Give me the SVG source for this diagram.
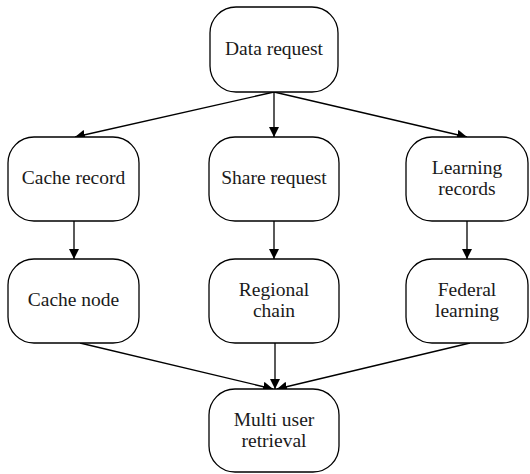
<svg xmlns="http://www.w3.org/2000/svg" width="530" height="474" viewBox="0 0 530 474">
<style>
.n{fill:#fff;stroke:#000;stroke-width:1.3}
.t{font-family:'Liberation Serif','Times New Roman',serif;font-size:19.5px;fill:#1a1a1a;text-anchor:middle}
.c{stroke:#000;stroke-width:1.3;fill:none;marker-end:url(#a)}
</style>
<defs>
<marker id="a" viewBox="0 0 10 10" refX="10" refY="5" markerWidth="10" markerHeight="10" markerUnits="userSpaceOnUse" orient="auto">
<path d="M0,0 L10,5 L0,10 Z" fill="#000"/>
</marker>
</defs>
<rect width="530" height="474" fill="#fff"/>
<g id="connectors">
<line class="c" x1="274" y1="92" x2="75" y2="137"/>
<line class="c" x1="274" y1="92" x2="274" y2="137"/>
<line class="c" x1="274" y1="92" x2="467" y2="137"/>
<line class="c" x1="74" y1="221" x2="74" y2="259"/>
<line class="c" x1="274" y1="221" x2="274" y2="259"/>
<line class="c" x1="467" y1="221" x2="467" y2="259"/>
<line class="c" x1="80" y1="343" x2="273" y2="389"/>
<line class="c" x1="275" y1="343" x2="275" y2="389"/>
<line class="c" x1="470" y1="343" x2="277" y2="389"/>
</g>
<g id="data-request"><rect class="n" x="210" y="7" width="128" height="85" rx="26"/><text class="t" x="274" y="55">Data request</text></g>
<g id="cache-record"><rect class="n" x="8" y="137" width="131" height="84" rx="26"/><text class="t" x="73.5" y="184">Cache record</text></g>
<g id="share-request"><rect class="n" x="209" y="137" width="130" height="84" rx="26"/><text class="t" x="274" y="184">Share request</text></g>
<g id="learning-records"><rect class="n" x="406" y="137" width="122" height="84" rx="26"/><text class="t" x="467" y="174">Learning</text><text class="t" x="467" y="195">records</text></g>
<g id="cache-node"><rect class="n" x="8" y="259" width="131" height="84" rx="26"/><text class="t" x="73.5" y="306">Cache node</text></g>
<g id="regional-chain"><rect class="n" x="209" y="259" width="130" height="84" rx="26"/><text class="t" x="274" y="296">Regional</text><text class="t" x="274" y="317">chain</text></g>
<g id="federal-learning"><rect class="n" x="406" y="259" width="122" height="84" rx="26"/><text class="t" x="467" y="296">Federal</text><text class="t" x="467" y="317">learning</text></g>
<g id="multi-user-retrieval"><rect class="n" x="209" y="389" width="130" height="83" rx="26"/><text class="t" x="274" y="426">Multi user</text><text class="t" x="274" y="447">retrieval</text></g>
</svg>
